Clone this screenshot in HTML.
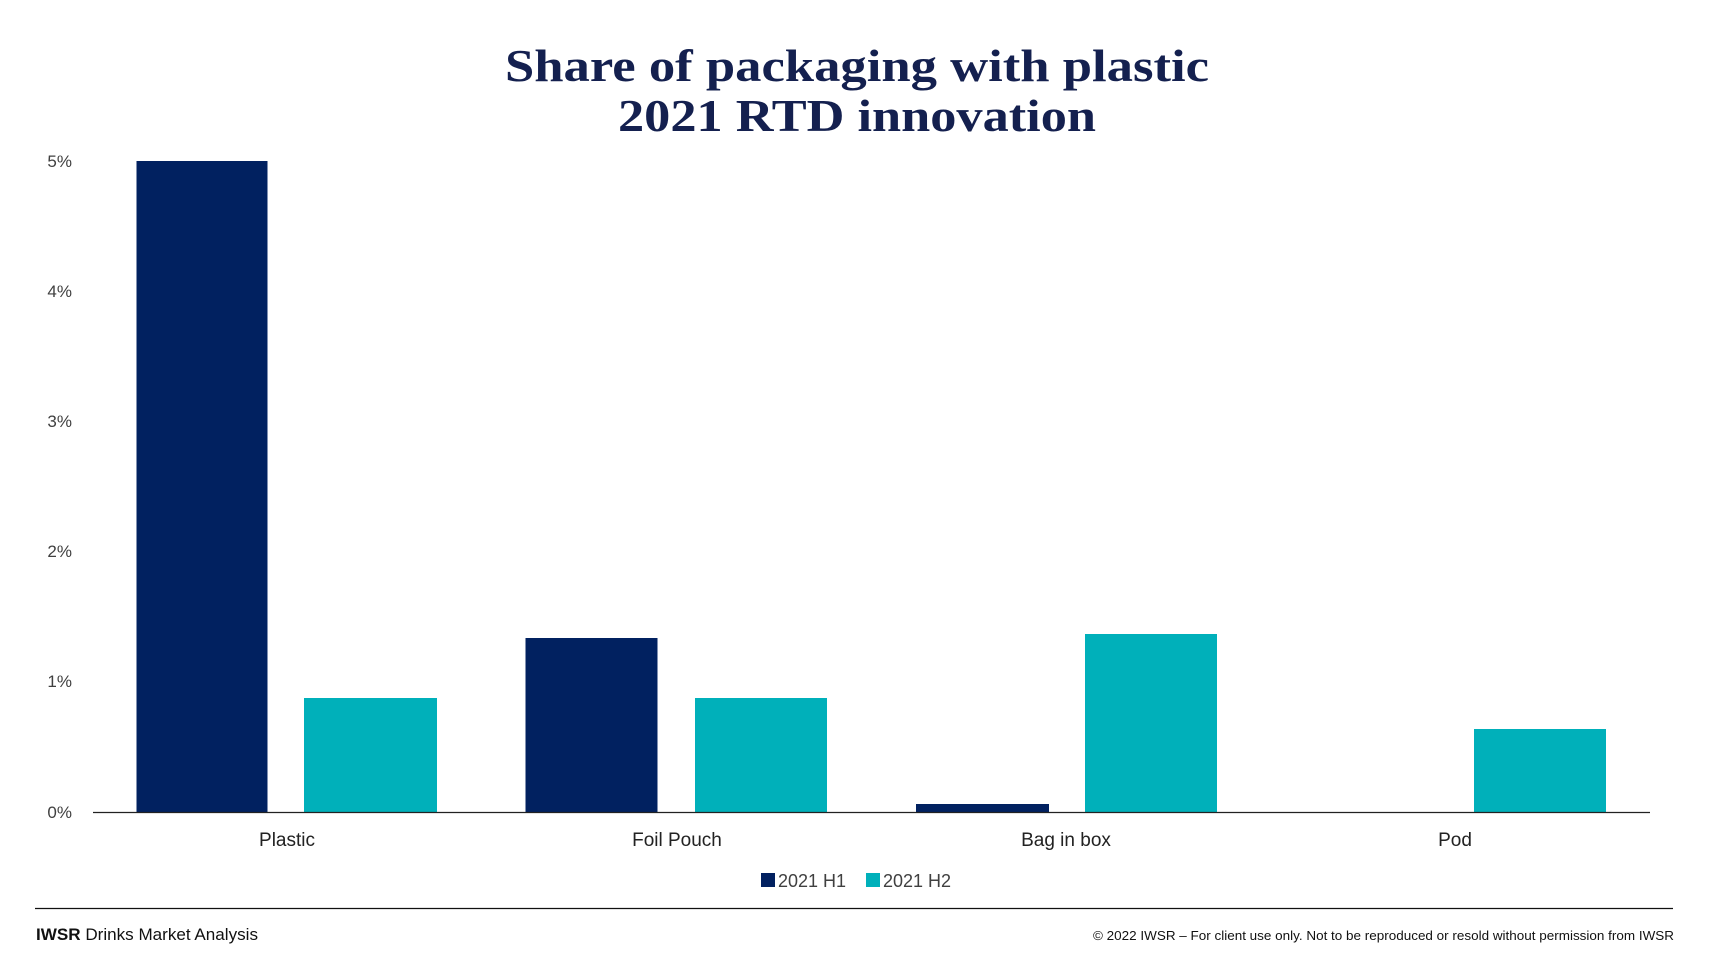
<!DOCTYPE html>
<html><head><meta charset="utf-8"><style>
html,body{margin:0;padding:0;background:#fff;}
svg{display:block;}
</style></head><body>
<svg width="1719" height="956" viewBox="0 0 1719 956" xmlns="http://www.w3.org/2000/svg">
<rect width="1719" height="956" fill="#fff"/>
<g font-family="Liberation Serif, serif" font-weight="bold" fill="#14204f" text-anchor="middle">
<text x="857" y="81" font-size="46" textLength="704" lengthAdjust="spacingAndGlyphs">Share of packaging with plastic</text>
<text x="857" y="131" font-size="46" textLength="478" lengthAdjust="spacingAndGlyphs">2021 RTD innovation</text>
</g>
<g font-family="Liberation Sans, sans-serif" font-size="17" fill="#404040" text-anchor="end">
<text x="72" y="167">5%</text>
<text x="72" y="297">4%</text>
<text x="72" y="427">3%</text>
<text x="72" y="557">2%</text>
<text x="72" y="687">1%</text>
<text x="72" y="818">0%</text>
</g>
<g fill="#012160">
<rect x="136.5" y="161" width="131" height="651"/>
<rect x="525.5" y="638" width="132" height="174"/>
<rect x="916" y="804" width="133" height="8"/>
</g>
<g fill="#00b0ba">
<rect x="304" y="698" width="133" height="114"/>
<rect x="695" y="698" width="132" height="114"/>
<rect x="1085" y="634" width="132" height="178"/>
<rect x="1474" y="729" width="132" height="83"/>
</g>
<line x1="93" y1="812.5" x2="1650" y2="812.5" stroke="#222" stroke-width="1.3"/>
<g font-family="Liberation Sans, sans-serif" font-size="19" fill="#222" text-anchor="middle">
<text x="287" y="846">Plastic</text>
<text x="677" y="846">Foil Pouch</text>
<text x="1066" y="846">Bag in box</text>
<text x="1455" y="846">Pod</text>
</g>
<rect x="761" y="873" width="14" height="14" fill="#012160"/>
<rect x="866" y="873" width="14" height="14" fill="#00b0ba"/>
<g font-family="Liberation Sans, sans-serif" font-size="18" fill="#404040">
<text x="778" y="887">2021 H1</text>
<text x="883" y="887">2021 H2</text>
</g>
<line x1="35" y1="908.5" x2="1673" y2="908.5" stroke="#111" stroke-width="1.3"/>
<text x="36" y="940" font-family="Liberation Sans, sans-serif" font-size="17" fill="#111" textLength="222" lengthAdjust="spacingAndGlyphs"><tspan font-weight="bold">IWSR</tspan> Drinks Market Analysis</text>
<text x="1093" y="940" font-family="Liberation Sans, sans-serif" font-size="13" fill="#111" textLength="581" lengthAdjust="spacingAndGlyphs">© 2022 IWSR – For client use only. Not to be reproduced or resold without permission from IWSR</text>
</svg>
</body></html>
